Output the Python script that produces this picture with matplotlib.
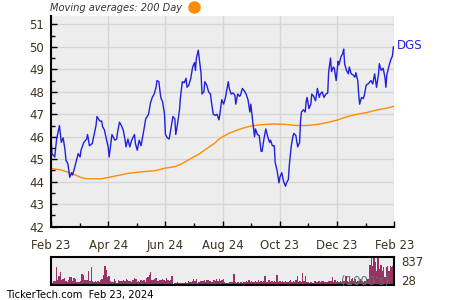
import numpy as np
import matplotlib
matplotlib.use("Agg")
import matplotlib.pyplot as plt
from matplotlib.lines import Line2D

# price (day offset from Feb 23, close)
price_day = [0, 1, 4, 6, 9, 11, 13, 15, 16, 18, 20, 22, 23, 25, 29, 31, 32, 35, 38, 39,
             41, 44, 47, 48, 49, 52, 54, 55, 57, 59, 61, 62, 64, 65, 68, 70, 71, 73, 75, 77,
             79, 80, 82, 84, 86,
             89, 90, 92, 94, 96, 99, 101, 104, 106, 108, 110, 112, 113, 115, 117, 119, 121, 122,
             124, 126, 128, 130, 132, 133, 135, 137, 138, 140, 142, 144, 145, 147, 149, 151, 153,
             154, 155, 157, 158, 160, 161, 163, 164, 166, 168, 170, 171, 173, 175, 177, 179,
             180, 182, 184, 186, 187, 189, 190, 192, 194, 196, 197, 199, 201, 202, 204, 206, 208,
             210, 212, 213, 215, 217, 218, 220, 222, 224, 225, 227, 229, 231, 233, 234, 236, 238,
             239, 241, 243, 244, 246, 248, 250, 251, 253, 254, 256, 258, 259, 261, 263, 265, 266,
             267, 269, 271,
             272, 273, 275, 277, 278, 280, 282, 284, 286, 287, 289, 291, 293, 295, 296, 298, 299,
             301, 302, 304, 306, 307, 309, 311, 312, 313, 315, 317, 318, 320, 322, 324, 325, 327,
             328, 329, 331, 333, 334, 336, 338, 340, 341, 343, 345, 347, 349, 350, 352, 354, 356,
             357, 358, 360, 362, 364, 365, 366]
price = [46.0, 45.25, 45.1, 45.9, 46.5, 45.75, 45.95, 45.4, 44.95, 44.8, 44.2, 44.4, 44.3, 44.6,
         45.25, 45.1, 45.4, 45.75, 45.9, 46.1, 45.6, 45.7, 46.3, 46.5, 46.9, 46.7, 46.7, 46.45,
         46.3, 45.9, 45.55, 45.1, 45.75, 46.1, 45.85, 45.9, 46.2, 46.65, 46.5, 46.3, 45.85, 45.55,
         45.9, 45.55, 45.85,
         46.1, 45.7, 45.4, 45.85, 45.6, 46.3, 46.8, 47.0, 47.5, 47.75, 47.9, 48.2, 48.5, 48.45,
         47.75, 47.55, 47.0, 46.1, 45.95, 45.9, 46.4, 46.9, 46.8, 46.1, 46.6, 47.2, 47.75, 48.45,
         48.4, 48.6, 48.2, 48.3, 48.6, 49.1, 49.3, 48.95, 49.5, 49.85, 49.5, 48.8, 47.9, 48.0,
         48.45, 48.3, 48.0, 47.9, 47.55, 47.0, 46.95, 47.0, 46.75,
         47.0, 47.65, 47.45, 47.75, 48.0, 48.45, 48.15, 47.9, 47.95, 47.85, 47.45, 47.9, 47.8,
         47.85, 48.15, 48.05, 47.9, 47.65, 47.1, 47.45, 46.7, 46.0, 46.35, 46.1, 46.05, 45.35,
         45.35, 45.9, 46.35, 46.0, 45.75, 45.85, 45.6, 45.6, 44.85, 44.5, 43.95, 44.2, 44.4,
         44.0, 43.8, 43.95, 44.1, 44.7, 45.55, 46.05, 46.15, 46.05, 45.55, 45.75, 46.7, 47.1,
         47.2, 47.1,
         47.55, 47.75, 47.25, 47.45, 47.9, 47.8, 47.6, 48.15, 47.75, 47.9, 48.0, 47.75, 47.9,
         47.95, 48.9, 49.5, 48.9, 49.1, 49.05, 48.5, 49.35, 49.2, 49.55, 49.7, 49.9, 49.25,
         48.95, 48.8, 49.1, 48.8, 48.75, 48.65, 48.85, 48.5, 47.9, 47.45, 47.75, 47.7, 47.85,
         48.3, 48.35, 48.45, 48.5, 48.35, 48.8, 48.2, 48.75, 49.25, 48.95, 49.05, 48.65, 48.2,
         48.75, 49.1, 49.4, 49.6, 50.0, 49.9]

# 200 day moving average
ma_day = [0, 11, 22, 32, 38, 54, 68, 82, 96, 111, 121, 132, 139, 146, 157, 168, 175,
          180, 191, 202, 212, 223, 237, 250, 262, 273, 284, 294, 305, 316, 326, 337, 348, 358, 366]
ma = [44.59, 44.52, 44.37, 44.19, 44.13, 44.13, 44.25, 44.37, 44.44, 44.49, 44.6, 44.67,
      44.79, 44.96, 45.21, 45.53, 45.73,
      45.93, 46.18, 46.35, 46.47, 46.53, 46.57, 46.55, 46.5, 46.5, 46.55, 46.63, 46.74, 46.9,
      47.0, 47.08, 47.2, 47.27, 47.36]

# volume (1000's)
volume = [174, 93, 140, 140, 640, 174, 326, 465, 174, 233, 256, 140, 116, 174, 291, 291, 140,
          256, 233, 116, 116, 116, 140, 407, 372, 174, 174, 174, 512, 140, 640, 140, 116, 140,
          116, 140, 116, 174, 233, 349, 674, 523, 291, 326, 140, 116, 116, 233, 140, 93, 174,
          140, 140, 140, 174, 140, 209, 174, 140, 140, 116, 174, 256, 209, 116, 140, 116, 174,
          140, 174, 116, 256, 291, 349, 465, 174, 174, 209, 256, 140, 140, 174, 174, 209, 174,
          140, 256, 174, 140, 174, 326, 58, 93, 93, 116, 93, 93, 93, 93, 93, 116, 93, 140, 116,
          116, 140, 209, 140, 209, 93, 116, 140, 140, 140, 174, 116, 174, 174, 140, 116, 116,
          174, 140, 209, 140, 209, 140, 174, 209,
          119, 95, 71, 95, 119, 119, 119, 393, 119, 71, 119, 95, 119, 95, 119, 119, 155, 119,
          190, 119, 155, 119, 119, 155, 119, 190, 119, 155, 119, 155, 309, 119, 119, 190, 119,
          155, 119, 155, 119, 357, 119, 155, 119, 155, 119, 155, 119, 119, 155, 190, 119, 155,
          119, 190, 333, 119, 155, 119, 428, 155, 309, 119, 119, 95, 119, 71, 95, 155, 119, 119,
          155, 119, 155, 155, 119, 119, 119, 155, 155, 155, 274, 119, 190, 119, 155, 119, 155,
          119, 155, 155, 309, 155, 119, 155, 214, 238, 155, 214, 119, 155, 155, 214, 155, 119,
          155, 155, 214, 214, 714, 990, 690, 990, 809, 512, 990, 571, 714, 512, 631, 274, 631,
          690, 512, 690, 631, 690, 119]

x_ticks = [0, 61, 122, 183, 244, 305, 366]
x_labels = ["Feb 23", "Apr 24", "Jun 24", "Aug 24", "Oct 23", "Dec 23", "Feb 23"]
y_ticks = [42, 43, 44, 45, 46, 47, 48, 49, 50, 51]

txt = "#3d3320"
fig = plt.figure(figsize=(4.5, 3.0), dpi=100)

ax = fig.add_axes([0.1133, 0.2443, 0.763, 0.7023])
ax.set_facecolor("#ededed")
ax.plot(ma_day, ma, color="#ff8c00", lw=1.0)
ax.plot(price_day, price, color="#2020dd", lw=1.0)
ax.set_xlim(0, 366)
ax.set_ylim(42, 51.37)
ax.set_xticks(x_ticks)
ax.set_xticklabels(x_labels)
ax.set_xticks([30.5 + 61 * i for i in range(6)], minor=True)
ax.set_yticks(y_ticks)
ax.set_yticks(np.arange(42.5, 51.3, 1.0), minor=True)
ax.grid(True, which="major", color="#d6d6d6", lw=1.0)
ax.set_axisbelow(True)
ax.tick_params(which="both", direction="in", color="black", labelcolor=txt, labelsize=8.5)
ax.tick_params(which="major", length=4, width=1)
ax.tick_params(which="minor", length=3, width=1)
ax.tick_params(axis="x", pad=9)
ax.tick_params(axis="y", pad=5)
for s in ["top", "right"]:
    ax.spines[s].set_visible(False)
for s in ["left", "bottom"]:
    ax.spines[s].set_linewidth(1.5)

ax.text(1.007, 0.86, "DGS", transform=ax.transAxes, color="#2020dd", fontsize=8.5,
        va="center", ha="left")

# volume panel
vx = np.linspace(0, 366, len(volume))
av = fig.add_axes([0.1133, 0.049, 0.763, 0.0953])
av.set_facecolor("#ededed")
av.bar(vx, volume, width=366 / len(volume) * 1.05, color="#993366", linewidth=0)
av.set_xlim(0, 366)
av.set_ylim(0, 1000)
av.set_xticks([])
av.set_yticks([])
for s in av.spines.values():
    s.set_linewidth(1.5)
av.text(1.02, 0.78, "837", transform=av.transAxes, color=txt, fontsize=8.5, va="center")
av.text(1.02, 0.12, "28", transform=av.transAxes, color=txt, fontsize=8.5, va="center")
av.text(0.985, 0.15, "(1000's)", transform=av.transAxes, color="#4e7a68", fontsize=8.5,
        va="center", ha="right", zorder=5)

fig.text(0.111, 0.973, "Moving averages: 200 Day", fontsize=7.1, style="italic",
         color="#333333", va="center")
fig.add_artist(Line2D([0.43], [0.977], marker="o", markersize=8, color="#ff8c00",
                      transform=fig.transFigure))
fig.text(0.013, 0.017, "TickerTech.com  Feb 23, 2024", fontsize=7.2, color="black",
         va="center")

fig.savefig("out.png", dpi=100)
